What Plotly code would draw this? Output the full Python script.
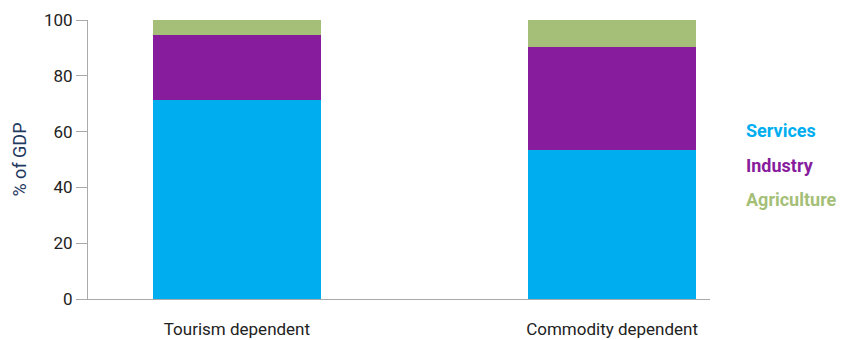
import plotly.graph_objects as go

categories = ["Tourism dependent", "Commodity dependent"]
services = [71.5, 53.3]
industry = [23.0, 37.2]
agriculture = [5.5, 9.5]
series_names = ["Services", "Industry", "Agriculture"]
colors = ["#00AEEF", "#871C9C", "#A5BF78"]
yticks = [0, 20, 40, 60, 80, 100]

FONT = "Liberation Sans Narrow, Roboto, Open Sans, sans-serif"
xpos = list(range(len(categories)))

fig = go.Figure()
for name, vals, col in zip(series_names, [services, industry, agriculture], colors):
    fig.add_trace(go.Bar(x=xpos, y=vals, name=name, marker=dict(color=col, line=dict(width=0)),
                         width=0.448, showlegend=False))

# legend as colored text
for i, (name, col) in enumerate(zip(series_names, colors)):
    fig.add_annotation(xref="paper", yref="paper", x=1.054, xanchor="left",
                       y=0.605 - i * 0.125, yanchor="middle", showarrow=False,
                       text="<b>%s</b>" % name, font=dict(family=FONT, size=18, color=col))

fig.update_layout(
    barmode="stack",
    width=845, height=340,
    margin=dict(l=88, r=135, t=20, b=41, autoexpand=False),
    plot_bgcolor="white", paper_bgcolor="white",
    font=dict(family=FONT, size=17, color="#222222"),
    xaxis=dict(range=[-0.397, 1.261], tickvals=xpos, ticktext=categories, automargin=False,
               showline=True, linecolor="#AAAAAA", linewidth=1, showgrid=False,
               zeroline=False, ticks="outside", ticklen=15, tickcolor="rgba(0,0,0,0)",
               tickfont=dict(size=17, color="#222222")),
    yaxis=dict(range=[0, 100], tickvals=yticks, showline=True, linecolor="#AAAAAA",
               linewidth=1, showgrid=False, zeroline=False, ticks="outside", ticklen=11,
               tickcolor="#AAAAAA", tickfont=dict(size=17, color="#222222"), automargin=False,
               title=dict(text="% of GDP", font=dict(size=18, color="#1F3A5F"), standoff=12)),
)

fig.write_html("out.html")
